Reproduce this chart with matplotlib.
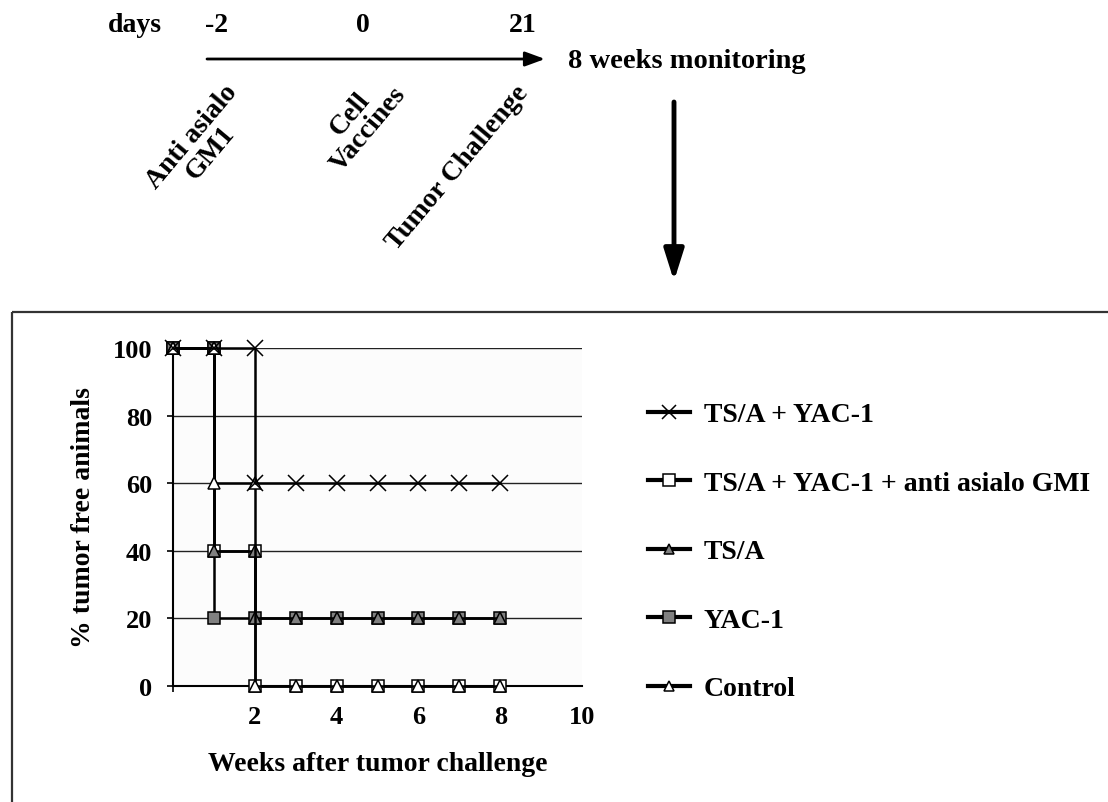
import matplotlib
matplotlib.use("Agg")
import matplotlib.pyplot as plt
from matplotlib.patches import Rectangle
from matplotlib.lines import Line2D

plt.rcParams['font.family'] = ['Liberation Serif', 'DejaVu Serif']
plt.rcParams['font.weight'] = 'bold'

# survival curves (weeks after challenge, % tumor free)
combo_x = [0, 1, 2, 2, 3, 4, 5, 6, 7, 8]
combo_y = [100, 100, 100, 60, 60, 60, 60, 60, 60, 60]
anti_x = [0, 1, 1, 2, 2, 3, 4, 5, 6, 7, 8]
anti_y = [100, 100, 40, 40, 0, 0, 0, 0, 0, 0, 0]
tsa_x = [0, 1, 1, 2, 2, 3, 4, 5, 6, 7, 8]
tsa_y = [100, 100, 40, 40, 20, 20, 20, 20, 20, 20, 20]
yac_x = [0, 1, 1, 2, 3, 4, 5, 6, 7, 8]
yac_y = [100, 100, 20, 20, 20, 20, 20, 20, 20, 20]
ctrl_x = [0, 1, 1, 2, 2, 3, 4, 5, 6, 7, 8]
ctrl_y = [100, 100, 60, 60, 0, 0, 0, 0, 0, 0, 0]

labels = ['TS/A + YAC-1', 'TS/A + YAC-1 + anti asialo GMI', 'TS/A', 'YAC-1', 'Control']
timeline_days = ['-2', '0', '21']
timeline_events = ['Anti asialo\nGM1', 'Cell\nVaccines', 'Tumor Challenge']

W, H = 1108, 803
fig = plt.figure(figsize=(W / 100, H / 100), dpi=100)

# overlay in pixel coordinates for the scheme on top + frame
ov = fig.add_axes([0, 0, 1, 1], zorder=0)
ov.set_xlim(0, W)
ov.set_ylim(H, 0)
ov.axis('off')
ov.add_patch(Rectangle((12, 313), 1120, 500, fill=False, lw=1.6, ec='#333333'))

fs = 20
ov.text(135, 26, 'days', ha='center', va='center', fontsize=fs)
for xp, t in zip([217, 363, 523], timeline_days):
    ov.text(xp, 26, t, ha='center', va='center', fontsize=fs)
ov.annotate('', xy=(545, 60), xytext=(207, 60),
            arrowprops=dict(arrowstyle='-|>,head_length=0.6,head_width=0.22',
                            lw=2, color='k', shrinkA=0, shrinkB=0, mutation_scale=20))
ov.text(568, 62, '8 weeks monitoring', ha='left', va='center', fontsize=20.5)
for (xp, yp), t in zip([(201, 145), (359, 122), (458, 168)], timeline_events):
    ov.text(xp, yp, t, ha='center', va='center', rotation=50, fontsize=fs,
            multialignment='center', linespacing=0.95)
ov.annotate('', xy=(674, 282), xytext=(674, 103),
            arrowprops=dict(arrowstyle='-|>,head_length=0.95,head_width=0.3',
                            lw=3.5, color='k', shrinkA=0, shrinkB=0, mutation_scale=20))

# main chart
ax = fig.add_axes([173 / W, 1 - 687 / H, 409 / W, 338 / H], zorder=2)
ax.set_facecolor('#fcfcfc')
ax.set_xlim(0, 10)
ax.set_ylim(0, 100)
for v in [20, 40, 60, 80, 100]:
    ax.axhline(v, color='#222222', lw=1, zorder=1)

lw = 1.8
grey = '#808080'
styles = [
    (combo_x, combo_y, dict(marker='x', ms=11, mec='k', mew=1.1), 6),
    (anti_x, anti_y, dict(marker='s', ms=9, mfc='white', mec='k', mew=1.1), 3),
    (tsa_x, tsa_y, dict(marker='^', ms=8, mfc=grey, mec='k', mew=1.1), 5),
    (yac_x, yac_y, dict(marker='s', ms=9, mfc=grey, mec='k', mew=1.1), 4),
    (ctrl_x, ctrl_y, dict(marker='^', ms=8, mfc='white', mec='k', mew=1.1), 5),
]
handles = []
for xs, ys, st, z in styles:
    ax.plot(xs, ys, color='k', lw=lw, clip_on=False, zorder=z, **st)
    handles.append(Line2D([], [], color='k', lw=3, **st))

for s in ['top', 'right']:
    ax.spines[s].set_visible(False)
ax.spines['left'].set_linewidth(1.5)
ax.spines['bottom'].set_linewidth(1.5)
ax.spines['left'].set_zorder(2)

ax.set_yticks([0, 20, 40, 60, 80, 100])
ax.set_xticks([2, 4, 6, 8, 10])
ax.set_xticks([0, 10], minor=True)
ax.tick_params(axis='y', direction='out', length=4, width=1.2, pad=11, labelsize=19)
ax.tick_params(axis='x', which='major', length=0, pad=14, labelsize=19)
ax.tick_params(axis='x', which='minor', direction='out', length=4, width=1.2)
ax.set_xlabel('Weeks after tumor challenge', fontsize=fs, fontweight='bold', labelpad=16)
ax.set_ylabel('% tumor free animals', fontsize=fs, fontweight='bold', labelpad=12)

fig.legend(handles, labels, loc='upper left', bbox_to_anchor=(648 / W, 1 - 403 / H),
           frameon=False, fontsize=fs, handlelength=1.5, handletextpad=0.5,
           labelspacing=1.55, borderpad=0, borderaxespad=0, numpoints=1, markerscale=0.9)

fig.savefig('out.png', dpi=100)
